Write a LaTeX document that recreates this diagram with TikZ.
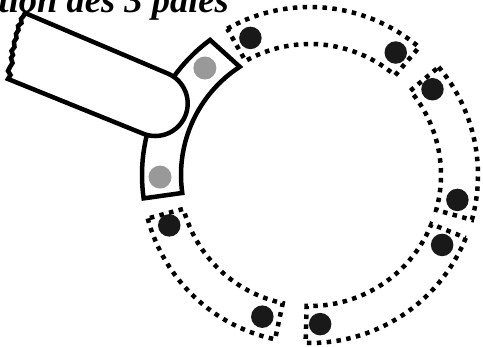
\documentclass[tikz,border=0pt]{standalone}
\usepackage{fontspec}
\setmainfont{Liberation Serif}
\newcommand\annsec[5]{%
  \draw[#1] ([shift={(310,172)}]#2:168) arc[start angle=#2,end angle=#3,radius=168]
    -- ([shift={(310,172)}]#4:#5) arc[start angle=#4,end angle=#2-#3+#4,radius=#5] -- cycle;}
\begin{document}
\begin{tikzpicture}[x=1pt,y=1pt,
  dotseg/.style={line width=4.5pt, dash pattern=on 4.5pt off 5.4pt},
  solidseg/.style={line width=4.5pt, line join=miter},
  bdot/.style={circle, fill=black!90, inner sep=0pt, minimum size=22.5pt},
  gdot/.style={circle, fill=black!40, inner sep=0pt, minimum size=23pt}]
\useasboundingbox (0,0) rectangle (483,347);
\clip (0,0) rectangle (483,347);
% dotted sectors
\annsec{dotseg}{119.5}{49.5}{49.5}{131}
\annsec{dotseg}{40}{-15.5}{-15.5}{131}
\annsec{dotseg}{-22}{-91.5}{-91.5}{131}
\annsec{dotseg}{195}{258}{258}{131}
% black dots
\node[bdot] (d1) at ([shift={(310,172)}]113.5:149.5) {};
\node[bdot] (d2) at ([shift={(310,172)}]55:149.5) {};
\node[bdot] (d3) at ([shift={(310,172)}]35:149.5) {};
\node[bdot] (d4) at ([shift={(310,172)}]-9.6:149.5) {};
\node[bdot] (d5) at ([shift={(310,172)}]-27.9:149.5) {};
\node[bdot] (d6) at ([shift={(310,172)}]-86.1:149.5) {};
\node[bdot] (d7) at ([shift={(310,172)}]199.7:149.5) {};
\node[bdot] (d8) at ([shift={(310,172)}]251.4:149.5) {};
% solid sector with grey dots
\draw[solidseg, fill=white] ([shift={(310,172)}]126.5:168) arc[start angle=126.5,end angle=188,radius=168]
  -- ([shift={(310,172)}]188:129) arc[start angle=188,end angle=123,radius=129] -- cycle;
\node[gdot] (g1) at ([shift={(310,172)}]134.5:150) {};
\node[gdot] (g2) at ([shift={(310,172)}]180.8:150) {};
% arm
\draw[solidseg, fill=white] (25,334) -- (167.9,273.4)
  arc[start angle=67,end angle=-113,radius=32.5] -- (8,268)
  -- (10.5,272) -- (8,276) -- (10,280) -- (12.5,284) -- (11,289) -- (13,292)
  -- (11.5,296) -- (14.5,300) -- (14,305) -- (16.5,309) -- (16,313)
  -- (18.5,317) -- (18,321) -- (21.5,324) -- (21,328) -- (23.5,331) -- cycle;
% title
\node[anchor=base east, inner sep=0pt, font=\bfseries\itshape\fontsize{36.5}{40}\selectfont] (title) at (229,334) {Rotation des 3 pales};
\end{tikzpicture}
\end{document}
